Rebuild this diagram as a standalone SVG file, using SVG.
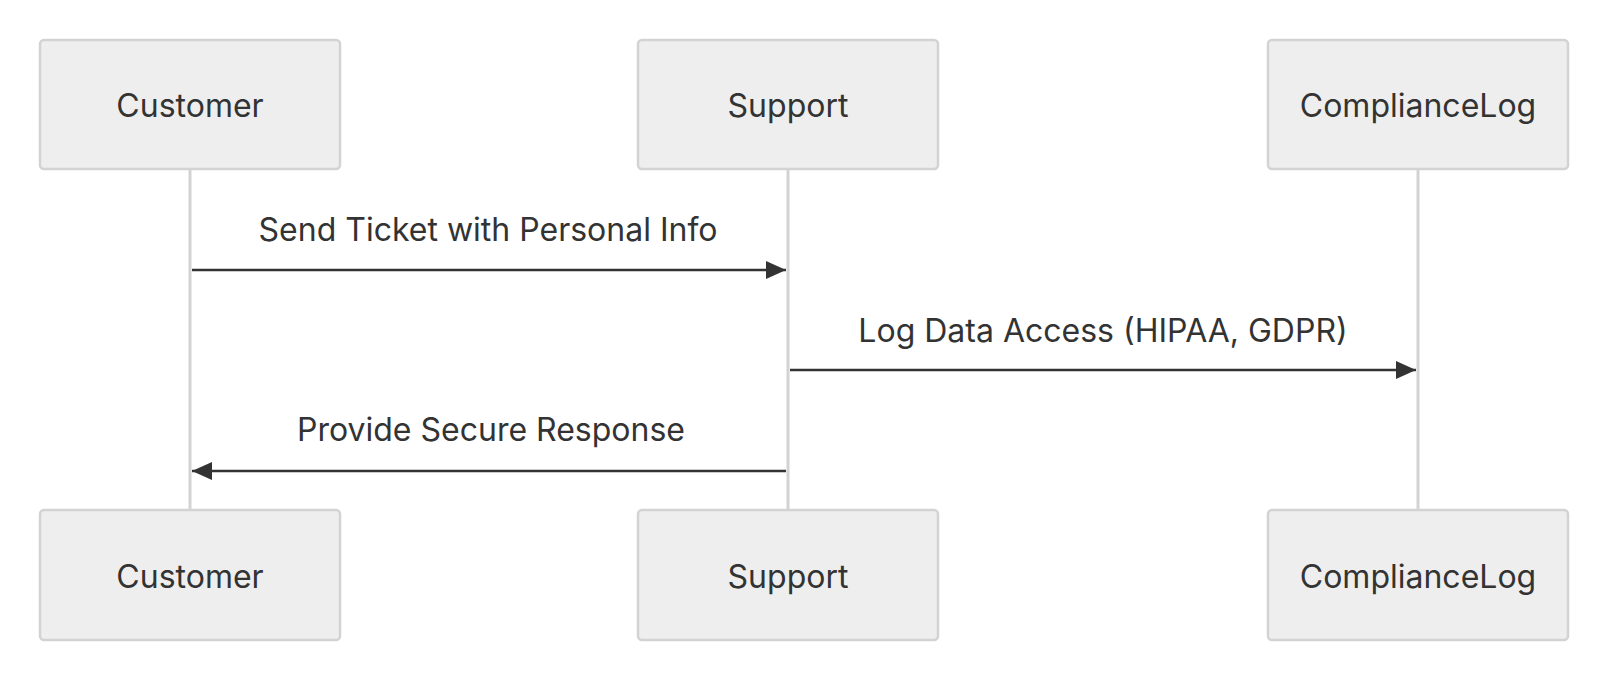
<svg xmlns="http://www.w3.org/2000/svg" width="1608" height="680" viewBox="0 0 1608 680">
<style>
.box{fill:#eeeeee;stroke:#d3d3d3;stroke-width:2.5}
.t{font-family:Inter,"Liberation Sans",sans-serif;font-size:32px;fill:#333;text-anchor:middle;dominant-baseline:central}
.life{stroke:#d3d3d3;stroke-width:3}
.msg{stroke:#333;stroke-width:2.5;fill:none;marker-end:url(#ah)}
</style>
<defs><marker id="ah" viewBox="0 0 20 18" refX="20" refY="9" markerWidth="20" markerHeight="18" markerUnits="userSpaceOnUse" orient="auto"><path d="M0,0L20,9L0,18z" fill="#333"/></marker></defs>
<rect width="1608" height="680" fill="#fff"/>
<g id="lifelines">
<line class="life" x1="190" y1="169" x2="190" y2="510"/>
<line class="life" x1="788" y1="169" x2="788" y2="510"/>
<line class="life" x1="1418" y1="169" x2="1418" y2="510"/>
</g>
<g id="customer-top"><rect class="box" x="40" y="40" width="300" height="129" rx="4"/><text class="t" x="190" y="105">Customer</text></g>
<g id="support-top"><rect class="box" x="638" y="40" width="300" height="129" rx="4"/><text class="t" x="788" y="105">Support</text></g>
<g id="compliance-top"><rect class="box" x="1268" y="40" width="300" height="129" rx="4"/><text class="t" x="1418" y="105">ComplianceLog</text></g>
<g id="customer-bottom"><rect class="box" x="40" y="510" width="300" height="130" rx="4"/><text class="t" x="190" y="576">Customer</text></g>
<g id="support-bottom"><rect class="box" x="638" y="510" width="300" height="130" rx="4"/><text class="t" x="788" y="576">Support</text></g>
<g id="compliance-bottom"><rect class="box" x="1268" y="510" width="300" height="130" rx="4"/><text class="t" x="1418" y="576">ComplianceLog</text></g>
<g id="connectors">
<line class="msg" x1="192" y1="270" x2="786" y2="270"/>
<text class="t" x="488" y="229">Send Ticket with Personal Info</text>
<line class="msg" x1="790" y1="370" x2="1416" y2="370"/>
<text class="t" x="1103" y="330">Log Data Access (HIPAA, GDPR)</text>
<line class="msg" x1="786" y1="471" x2="192" y2="471"/>
<text class="t" x="491" y="429">Provide Secure Response</text>
</g>
</svg>
